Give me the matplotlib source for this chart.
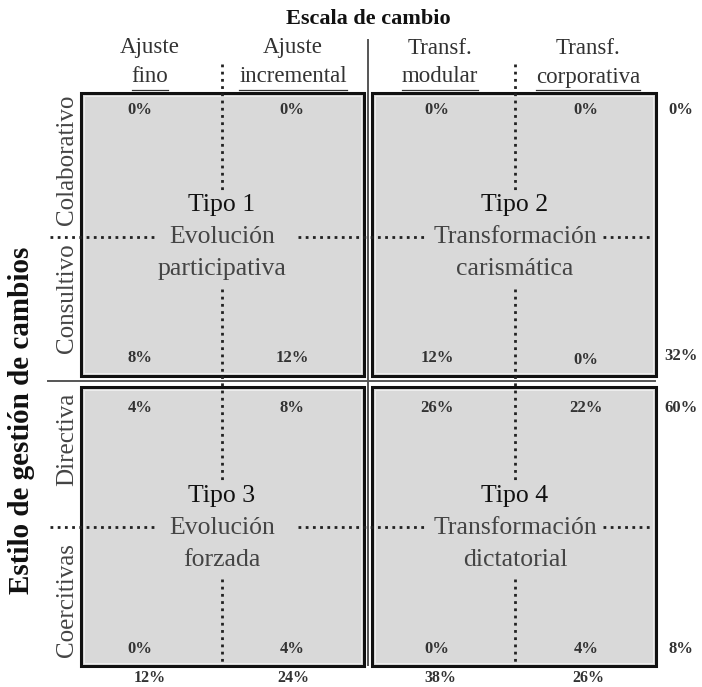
import matplotlib
matplotlib.use("Agg")
import matplotlib.pyplot as plt
from matplotlib.patches import Rectangle

# ---------------- data ----------------
title = "Escala de cambio"
ylabel = "Estilo de gestión de cambios"
col_labels = ["Ajuste\nfino", "Ajuste\nincremental", "Transf.\nmodular", "Transf.\ncorporativa"]
row_labels = ["Colaborativo", "Consultivo", "Directiva", "Coercitivas"]
# percentages per row (top to bottom) and column (left to right)
pct = [
    ["0%", "0%", "0%", "0%"],
    ["8%", "12%", "12%", "0%"],
    ["4%", "8%", "26%", "22%"],
    ["0%", "4%", "0%", "4%"],
]
row_totals = ["0%", "32%", "60%", "8%"]
col_totals = ["12%", "24%", "38%", "26%"]
types = [
    ("Tipo 1", "Evolución\nparticipativa"),
    ("Tipo 2", "Transformación\ncarismática"),
    ("Tipo 3", "Evolución\nforzada"),
    ("Tipo 4", "Transformación\ndictatorial"),
]

# ---------------- layout (pixels) ----------------
W, H = 702, 687
fig = plt.figure(figsize=(W / 100, H / 100), dpi=100)
ax = fig.add_axes([0, 0, 1, 1])
ax.set_xlim(0, W)
ax.set_ylim(H, 0)
ax.axis("off")

serif = ["Liberation Serif", "DejaVu Serif"]
fill = "#d9d9d9"

boxes_x = [(81, 364), (372, 656)]
boxes_y = [(93, 376), (387, 666)]

for (y0, y1) in boxes_y:
    for (x0, x1) in boxes_x:
        ax.add_patch(Rectangle((x0, y0), x1 - x0, y1 - y0, facecolor=fill,
                               edgecolor="#111111", lw=2.2, zorder=1))
        ax.add_patch(Rectangle((x0 + 3, y0 + 3), x1 - x0 - 6, y1 - y0 - 6, facecolor="none",
                               edgecolor="#eeeeee", lw=0.7, zorder=1.5))

# central dividers
ax.plot([368, 368], [40, 665], color="#555555", lw=1.4, zorder=2)
ax.plot([48, 655], [381, 381], color="#555555", lw=1.4, zorder=2)

# dotted lines
dot = dict(color="#222222", lw=2.0, linestyle=(0, (1, 1.6)), zorder=3)
vx = [222, 515]
for x in vx:
    ax.plot([x, x], [64, 190], **dot)
    ax.plot([x, x], [289, 483], **dot)
    ax.plot([x, x], [579, 665], **dot)
for y in [237, 527]:
    ax.plot([50, 157], [y, y], **dot)
    ax.plot([298, 426], [y, y], **dot)
    ax.plot([603, 651], [y, y], **dot)

# title and axis label
ax.text(368, 19, title, ha="center", va="center", fontsize=16, fontweight="bold",
        family=serif, color="#111111")
ax.text(22, 420, ylabel, ha="center", va="center", fontsize=21, fontweight="bold",
        family=serif, rotation=90, color="#111111")

# column headers
col_x = [150, 293, 440, 588]
header_texts = []
for x, lab in zip(col_x, col_labels):
    l1, l2 = lab.split("\n")
    ax.text(x, 48, l1, ha="center", va="center", fontsize=16.5, family=serif, color="#333333")
    t = ax.text(x, 77, l2, ha="center", va="center", fontsize=16.5, family=serif, color="#333333")
    header_texts.append(t)

# row labels
row_y = [160, 298, 439, 600]
for y, lab in zip(row_y, row_labels):
    ax.text(67, y, lab, ha="center", va="center", fontsize=18, family=serif,
            rotation=90, color="#444444")

# percentages
pct_y = [110, 358, 408, 649]
pct_x = [140, 292, 437, 586]
pbold = dict(ha="center", va="center", fontsize=12, fontweight="bold", family=serif,
             color="#333333", zorder=4)
for r, y in enumerate(pct_y):
    for c, x in enumerate(pct_x):
        yy = y + (2 if (r == 1 and c == 3) else 0)
        ax.text(x, yy, pct[r][c], **pbold)
tot_y = [110, 356, 408, 649]
for y, v in zip(tot_y, row_totals):
    ax.text(681, y, v, **pbold)
for x, v in zip(col_x, col_totals):
    ax.text(x, 682, v, ha="center", va="baseline", fontsize=11.5, fontweight="bold",
            family=serif, color="#333333", zorder=4)

# type labels
centers = [(222, 205), (515, 205), (222, 496), (515, 496)]
for (cx, cy), (tname, desc) in zip(centers, types):
    ax.text(cx, cy, tname, ha="center", va="center", fontsize=18.5, family=serif,
            color="#111111", zorder=4)
    d1, d2 = desc.split("\n")
    ax.text(cx, cy + 32, d1, ha="center", va="center", fontsize=18.5, family=serif,
            color="#444444", zorder=4)
    ax.text(cx, cy + 64, d2, ha="center", va="center", fontsize=18.5, family=serif,
            color="#444444", zorder=4)

# underline header second lines
fig.canvas.draw()
renderer = fig.canvas.get_renderer()
inv = ax.transData.inverted()
for t in header_texts:
    bb = t.get_window_extent(renderer)
    (xa, _), (xb, _) = inv.transform([(bb.x0, bb.y0), (bb.x1, bb.y0)])
    ax.plot([xa, xb], [90, 90], color="#333333", lw=0.9, zorder=2)

fig.savefig("out.png", dpi=100, facecolor="white")
